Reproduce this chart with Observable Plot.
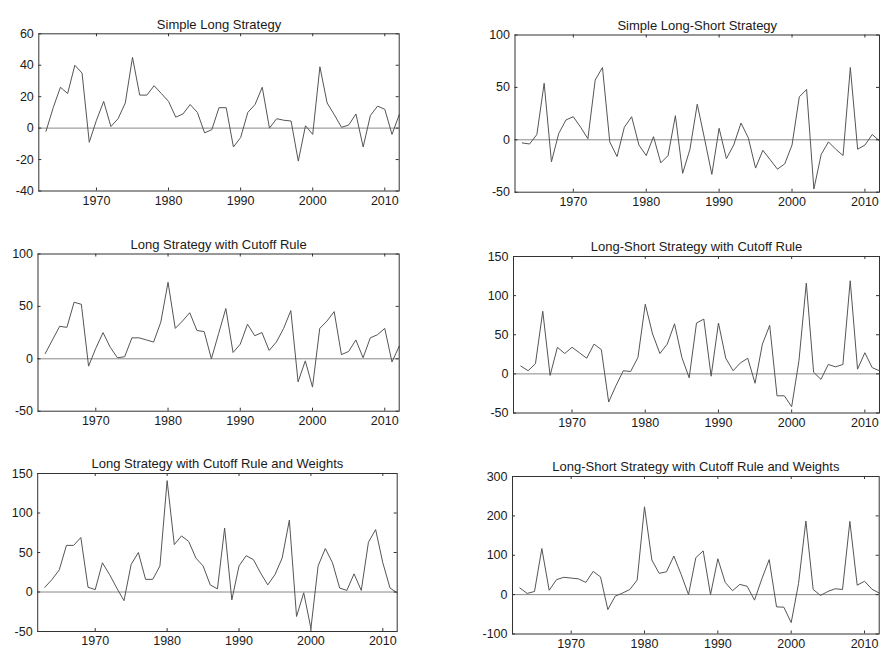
<!DOCTYPE html>
<html><head><meta charset="utf-8">
<script src="https://cdn.jsdelivr.net/npm/d3@7"></script>
<script src="https://cdn.jsdelivr.net/npm/@observablehq/plot@0.6"></script>
<style>
body{margin:0;background:#fff;}
#root{position:relative;width:880px;height:654px;overflow:hidden;background:#fff;}
#root svg{position:absolute;overflow:visible;}
</style></head><body><div id="root"></div>
<script>
const years = [1963,1964,1965,1966,1967,1968,1969,1970,1971,1972,
  1973,1974,1975,1976,1977,1978,1979,1980,1981,1982,
  1983,1984,1985,1986,1987,1988,1989,1990,1991,1992,
  1993,1994,1995,1996,1997,1998,1999,2000,2001,2002,
  2003,2004,2005,2006,2007,2008,2009,2010,2011,2012];

const simpleLong = [-2,13,26,22,40,35,-9,5,17,1,
  6,16,45,21,21,27,22,17,7,9,
  15,10,-3,-1,13,13,-12,-6,10,15,
  26,0,6,5,4.5,-21,1.5,-4,39,16,
  8.5,0.5,2,9,-12,8,14,12,-4,8.5];

const simpleLongShort = [-3,-4,5,54,-21,6,19,22,12,1,
  57,69,-2,-16,12,22,-5,-15,3,-22,
  -15,23,-32,-9,34,1,-33,11,-18,-5,
  16,2,-27,-10,-19,-28,-23,-5,41,48,
  -47,-14,-2,-9,-15,69,-9,-5,5,-1];

const longCutoff = [5,18,31,30,54,52,-7,10,25,11,
  1,2,20,20,18,16,35,73,29,36,
  44,27,26,0,24,48,6,14,33,22,
  25,8,16,29,46,-22,-2,-27,29,36,
  45,4,7,18,1,20,23,29,-3,12];

const longShortCutoff = [10,4,13,80,-2,34,26,34,27,20,
  38,31,-36,-15,4,3,21,89,51,26,
  38,64,21,-5,65,70,-3,65,20,4,
  14,20,-12,38,62,-28,-28,-42,17,116,
  2,-7,12,9,12,119,6,27,8,4];

const longCutoffWeights = [6,16,28,59,59,69,6,3,37,22,
  5,-11,35,50,16,16,33,141,60,71,
  64,43,33,9,4,81,-10,33,46,41,
  24,9,22,43,91,-31,-1,-46,33,55,
  37,5,2,23,2,63,79,37,5,-1];

const longShortCutoffWeights = [17,3,8,117,11,38,44,42,40,31,
  59,45,-38,-4,4,13,37,223,88,54,
  58,98,51,0,94,111,0,91,31,10,
  26,21,-14,40,89,-31,-32,-71,28,187,
  13,-2,8,15,13,186,24,34,14,4];

const titles = ["Simple Long Strategy", "Simple Long-Short Strategy",
  "Long Strategy with Cutoff Rule", "Long-Short Strategy with Cutoff Rule",
  "Long Strategy with Cutoff Rule and Weights", "Long-Short Strategy with Cutoff Rule and Weights"];

const xTicks = [1970, 1980, 1990, 2000, 2010];
const xDomain = [1962, 2012];

const yTicks1 = [-40, -20, 0, 20, 40, 60];
const yTicks2 = [-50, 0, 50, 100];
const yTicks3 = [-50, 0, 50, 100];
const yTicks4 = [-50, 0, 50, 100, 150];
const yTicks5 = [-50, 0, 50, 100, 150];
const yTicks6 = [-100, 0, 100, 200, 300];

const panels = [
  {title: titles[0], values: simpleLong, yTicks: yTicks1, left: 0, top: 0, width: 440, height: 210, ml: 38.3, mr: 41.3, mt: 33.3, mb: 19.5},
  {title: titles[1], values: simpleLongShort, yTicks: yTicks2, left: 440, top: 0, width: 440, height: 210, ml: 74.5, mr: 1, mt: 34.5, mb: 18.3},
  {title: titles[2], values: longCutoff, yTicks: yTicks3, left: 0, top: 220, width: 440, height: 210, ml: 37.5, mr: 41.3, mt: 33.5, mb: 19.3},
  {title: titles[3], values: longShortCutoff, yTicks: yTicks4, left: 440, top: 220, width: 440, height: 210, ml: 73, mr: 1, mt: 36, mb: 17.5},
  {title: titles[4], values: longCutoffWeights, yTicks: yTicks5, left: 0, top: 440, width: 440, height: 214, ml: 37.2, mr: 43.3, mt: 33, mb: 23},
  {title: titles[5], values: longShortCutoffWeights, yTicks: yTicks6, left: 440, top: 440, width: 440, height: 214, ml: 72, mr: 1.3, mt: 36, mb: 20.5}
];

const root = document.getElementById("root");
for (const p of panels) {
  const pw = p.width - p.ml - p.mr, ph = p.height - p.mt - p.mb;
  const data = years.map((y, i) => ({year: y, value: p.values[i]}));
  const yDomain = [p.yTicks[0], p.yTicks[p.yTicks.length - 1]];
  const chart = Plot.plot({
    width: p.width, height: p.height,
    marginLeft: p.ml, marginRight: p.mr, marginTop: p.mt, marginBottom: p.mb,
    style: {fontFamily: "'Liberation Sans', Arial, Helvetica, sans-serif", fontSize: "12.5px", color: "#1a1a1a", background: "transparent"},
    x: {domain: xDomain, label: null},
    y: {domain: yDomain, label: null},
    marks: [
      Plot.ruleY([0], {stroke: "#888", strokeWidth: 1}),
      Plot.line(data, {x: "year", y: "value", stroke: "#555", strokeWidth: 1}),
      Plot.tickX(xTicks, {x: d => d, insetBottom: ph - 3, stroke: "#333"}),
      Plot.tickX(xTicks, {x: d => d, insetTop: ph - 3, stroke: "#333"}),
      Plot.tickY(p.yTicks, {y: d => d, insetRight: pw - 3, stroke: "#333"}),
      Plot.tickY(p.yTicks, {y: d => d, insetLeft: pw - 3, stroke: "#333"}),
      Plot.frame({stroke: "#333"}),
      Plot.axisX({ticks: xTicks, tickSize: 0, tickPadding: 5, label: null, tickFormat: d => String(d)}),
      Plot.axisY({ticks: p.yTicks, tickSize: 0, tickPadding: 5, label: null, tickFormat: d => String(d)}),
      Plot.text([p.title], {frameAnchor: "top", dy: -14.5, fontSize: 13, fill: "#1a1a1a"})
    ]
  });
  chart.style.left = p.left + "px";
  chart.style.top = p.top + "px";
  root.appendChild(chart);
}
</script></body></html>
